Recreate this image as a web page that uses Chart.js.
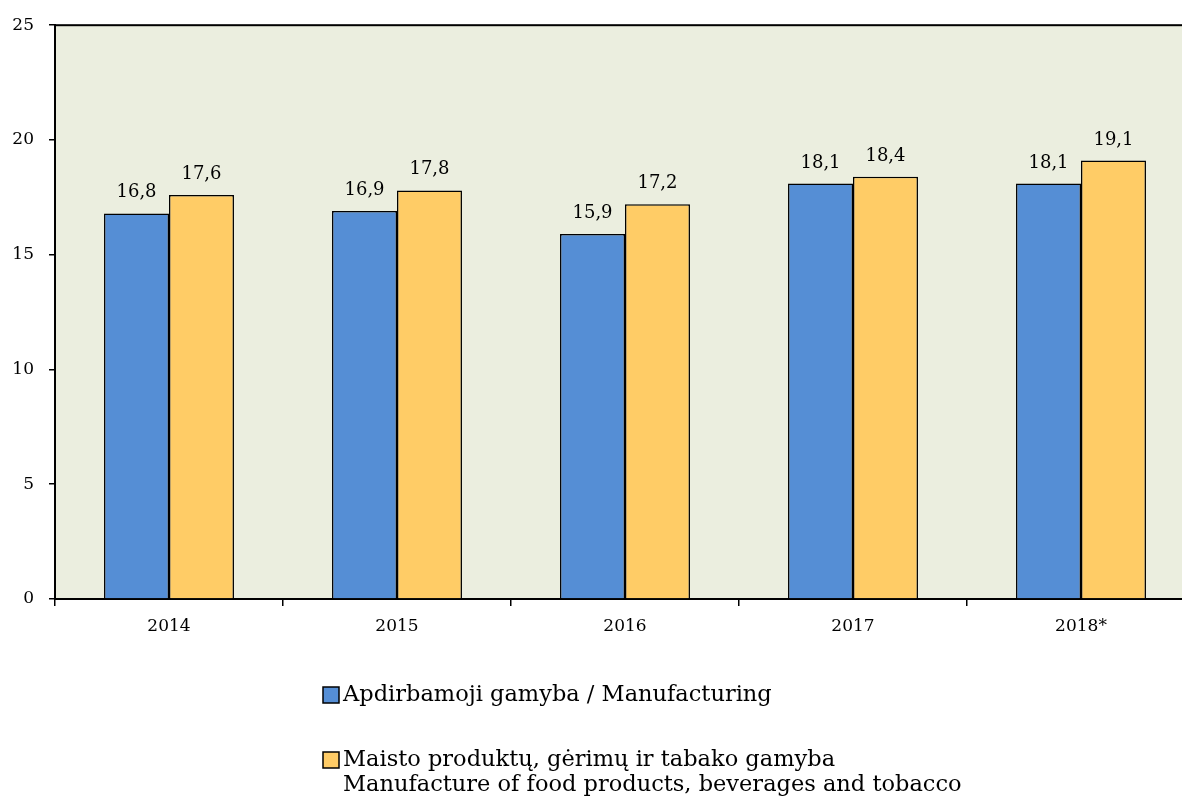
<!DOCTYPE html>
<html>
<head>
<meta charset="utf-8">
<script src="https://cdn.jsdelivr.net/npm/chart.js@4"></script>
<style>
  html, body { margin: 0; padding: 0; background: #fff; overflow: hidden; }
  #wrap { position: relative; width: 1195px; height: 805px; }
</style>
</head>
<body>
<div id="wrap"><canvas id="chart"></canvas></div>
<script>
const years = ["2014", "2015", "2016", "2017", "2018*"];
const manufacturing = [16.8, 16.9, 15.9, 18.1, 18.1];
const foodBevTobacco = [17.6, 17.8, 17.2, 18.4, 19.1];
const legendLabels = [
  ["Apdirbamoji gamyba / Manufacturing"],
  ["Maisto produktų, gėrimų ir tabako gamyba", "Manufacture of food products, beverages and tobacco"],
];

const FONT = "'DejaVu Serif', 'Liberation Serif', serif";

// fill plot area + frame
const plotBg = {
  id: "plotBg",
  beforeDraw(chart) {
    const { ctx, chartArea: a } = chart;
    ctx.save();
    ctx.fillStyle = "#ebeedf";
    ctx.fillRect(a.left, a.top, a.right - a.left, a.bottom - a.top);
    ctx.strokeStyle = "#000";
    ctx.lineWidth = 2;
    ctx.strokeRect(a.left, a.top, a.right - a.left, a.bottom - a.top);
    ctx.restore();
  },
};

// value labels above bars
const valueLabels = {
  id: "valueLabels",
  afterDatasetsDraw(chart) {
    const ctx = chart.ctx;
    ctx.save();
    ctx.font = "18px " + FONT;
    ctx.fillStyle = "#000";
    ctx.textAlign = "center";
    ctx.textBaseline = "alphabetic";
    chart.data.datasets.forEach((ds, i) => {
      chart.getDatasetMeta(i).data.forEach((bar, j) => {
        ctx.fillText(ds.data[j].toFixed(1).replace(".", ","), bar.x, bar.y - 16);
      });
    });
    ctx.restore();
  },
};

// legend drawn by hand (second entry has two lines)
const customLegend = {
  id: "customLegend",
  afterDraw(chart) {
    const ctx = chart.ctx;
    const rows = [695, 760];
    ctx.save();
    ctx.font = "22.5px " + FONT;
    ctx.textBaseline = "middle";
    chart.data.datasets.forEach((ds, i) => {
      const y = rows[i];
      ctx.fillStyle = ds.backgroundColor;
      ctx.fillRect(323, y - 8, 16, 16);
      ctx.strokeStyle = "#000";
      ctx.lineWidth = 1.5;
      ctx.strokeRect(323, y - 8, 16, 16);
      ctx.fillStyle = "#000";
      legendLabels[i].forEach((line, k) => {
        ctx.fillText(line, 343, y + k * 25);
      });
    });
    ctx.restore();
  },
};

new Chart(document.getElementById("chart"), {
  type: "bar",
  data: {
    labels: years,
    datasets: [
      {
        label: legendLabels[0].join(" "),
        data: manufacturing,
        backgroundColor: "#558ed5",
        borderColor: "#000",
        borderWidth: 1.5,
      },
      {
        label: legendLabels[1].join(" "),
        data: foodBevTobacco,
        backgroundColor: "#ffcc66",
        borderColor: "#000",
        borderWidth: 1.5,
      },
    ],
  },
  options: {
    responsive: true,
    maintainAspectRatio: false,
    animation: false,
    barPercentage: 1,
    categoryPercentage: 0.57,
    layout: { padding: { top: 23, right: 0, left: 0, bottom: 0 } },
    plugins: {
      legend: { display: false },
      tooltip: { enabled: false },
    },
    scales: {
      x: {
        grid: { drawOnChartArea: false, drawTicks: true, tickLength: 7, color: "#000", lineWidth: 1.5 },
        border: { color: "#000", width: 2 },
        ticks: { color: "#000", font: { family: FONT, size: 17 }, padding: 10 },
        afterFit(scale) { scale.height = 206; },
      },
      y: {
        min: 0,
        max: 25,
        ticks: { stepSize: 5, color: "#000", font: { family: FONT, size: 17 }, padding: 15 },
        grid: { drawOnChartArea: false, drawTicks: true, tickLength: 6, color: "#000", lineWidth: 1.5 },
        border: { color: "#000", width: 2 },
        afterFit(scale) { scale.width = 55; },
      },
    },
  },
  plugins: [plotBg, valueLabels, customLegend],
});
</script>
</body>
</html>
